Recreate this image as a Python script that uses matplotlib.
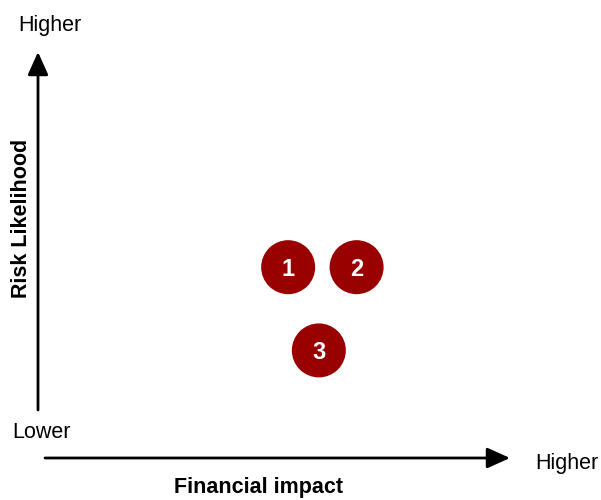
import matplotlib.pyplot as plt
from matplotlib.patches import FancyArrowPatch

# risk items on a 0-10 scale (impact, likelihood)
labels = ["1", "2", "3"]
impact = [5.3, 6.75, 5.95]
likelihood = [4.7, 4.7, 2.65]

W, H = 601, 500
plt.rcParams["font.family"] = ["Liberation Sans", "DejaVu Sans"]


def fx(px):
    return px / W


def fy(py):
    return 1 - py / H


fig = plt.figure(figsize=(W / 100, H / 100), dpi=100)
ax = fig.add_axes([fx(38), fy(458), fx(510) - fx(38), fy(52) - fy(458)])
ax.set_xlim(0, 10)
ax.set_ylim(0, 10)
ax.axis("off")

ax.scatter(impact, likelihood, s=1512, color="#990000", edgecolors="none", zorder=3)
for lab, x, y in zip(labels, impact, likelihood):
    ax.text(x, y - 0.05, lab, color="white", fontsize=17, fontweight="bold",
            ha="center", va="center", zorder=4)

arrow = dict(arrowstyle="-|>,head_length=1.0,head_width=0.45", color="black",
             lw=2, mutation_scale=14, shrinkA=0, shrinkB=0)
fig.add_artist(FancyArrowPatch((fx(38), fy(410)), (fx(38), fy(52)),
                               transform=fig.transFigure, **arrow))
fig.add_artist(FancyArrowPatch((fx(45), fy(458)), (fx(510), fy(458)),
                               transform=fig.transFigure, **arrow))

fig.text(fx(50), fy(26), "Higher", fontsize=15.5, ha="center", va="center")
fig.text(fx(42), fy(432), "Lower", fontsize=15.5, ha="center", va="center")
fig.text(fx(567), fy(463), "Higher", fontsize=15.5, ha="center", va="center")
fig.text(fx(258), fy(488), "Financial impact", fontsize=15.5, fontweight="bold",
         ha="center", va="center")
fig.text(fx(22), fy(218), "Risk Likelihood", fontsize=15.5, fontweight="bold",
         ha="center", va="center", rotation=90)

fig.savefig("out.png", dpi=100)
